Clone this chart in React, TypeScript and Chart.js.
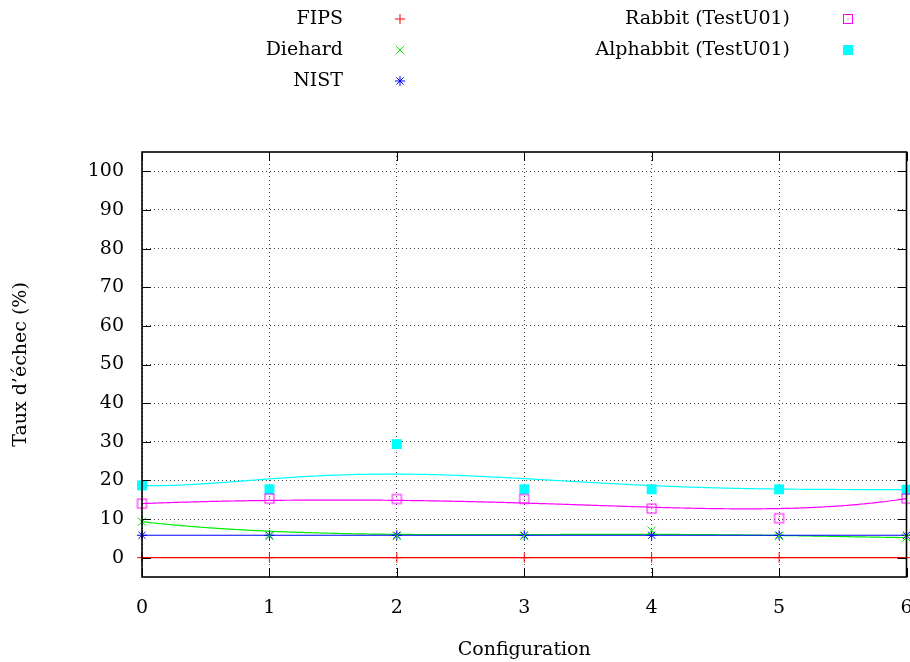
import React, { useEffect, useRef } from 'react';
import { Chart, registerables } from 'chart.js';

Chart.register(...registerables);

// ---------- data ----------
const configurations = [0, 1, 2, 3, 4, 5, 6];
const yTickValues = [0, 10, 20, 30, 40, 50, 60, 70, 80, 90, 100];

const fipsRates = [0, 0, 0, 0, 0, 0, 0];
const diehardRates = [9.3, 5.6, 5.6, 5.6, 7.0, 5.6, 5.2];
const nistRates = [5.8, 5.8, 5.8, 5.8, 5.8, 5.8, 5.8];
const rabbitRates = [14.0, 15.3, 15.2, 15.2, 12.7, 10.2, 15.3];
const alphabbitRates = [18.7, 17.7, 29.4, 17.7, 17.7, 17.7, 17.6];

const seriesNames = ['FIPS', 'Diehard', 'NIST', 'Rabbit (TestU01)', 'Alphabbit (TestU01)'];
const xAxisTitle = 'Configuration';
const yAxisTitle = 'Taux d’échec (%)';

// ---------- styles ----------
const FONT_FAMILY = '"DejaVu Serif", "Liberation Serif", serif';
const FONT_SIZE = 19;
const colors = ['#ff0000', '#00ee00', '#0000ff', '#ff00ff', '#00ffff'];
const markerKinds = ['plus', 'x', 'star', 'squareDot', 'filledSquare'];

// legend placement (gnuplot-like: right aligned text, sample marker on the right)
const legendSlots = [
  { textRight: 343, markerX: 400, y: 19 },
  { textRight: 343, markerX: 400, y: 50 },
  { textRight: 343, markerX: 400, y: 81 },
  { textRight: 790, markerX: 848, y: 19 },
  { textRight: 790, markerX: 848, y: 50 },
];

function drawMarker(ctx: CanvasRenderingContext2D, kind: string, x: number, y: number, color: string) {
  ctx.save();
  ctx.strokeStyle = color;
  ctx.fillStyle = color;
  ctx.lineWidth = 1;
  ctx.beginPath();
  if (kind === 'plus') {
    ctx.moveTo(x - 5, y); ctx.lineTo(x + 5, y);
    ctx.moveTo(x, y - 5); ctx.lineTo(x, y + 5);
    ctx.stroke();
  } else if (kind === 'x') {
    ctx.moveTo(x - 4.2, y - 4.2); ctx.lineTo(x + 4.2, y + 4.2);
    ctx.moveTo(x - 4.2, y + 4.2); ctx.lineTo(x + 4.2, y - 4.2);
    ctx.stroke();
  } else if (kind === 'star') {
    ctx.moveTo(x - 5, y); ctx.lineTo(x + 5, y);
    ctx.moveTo(x, y - 5); ctx.lineTo(x, y + 5);
    ctx.moveTo(x - 3.6, y - 3.6); ctx.lineTo(x + 3.6, y + 3.6);
    ctx.moveTo(x - 3.6, y + 3.6); ctx.lineTo(x + 3.6, y - 3.6);
    ctx.stroke();
  } else if (kind === 'squareDot') {
    ctx.strokeRect(x - 4.5, y - 4.5, 9, 9);
    ctx.fillRect(x - 0.5, y - 0.5, 1, 1);
  } else if (kind === 'filledSquare') {
    ctx.fillRect(x - 5, y - 5, 10, 10);
  }
  ctx.restore();
}

function bezierPoint(pts: { x: number; y: number }[], t: number) {
  const p = pts.map((q) => ({ x: q.x, y: q.y }));
  for (let r = 1; r < p.length; r++) {
    for (let i = 0; i < p.length - r; i++) {
      p[i].x = (1 - t) * p[i].x + t * p[i + 1].x;
      p[i].y = (1 - t) * p[i].y + t * p[i + 1].y;
    }
  }
  return p[0];
}

const gnuplotDecor = {
  id: 'gnuplotDecor',
  beforeDatasetsDraw(chart: any) {
    const { ctx } = chart;
    chart.data.datasets.forEach((ds: any, i: number) => {
      const meta = chart.getDatasetMeta(i);
      const pts = meta.data.map((e: any) => ({ x: e.x, y: e.y }));
      if (!pts.length) return;
      ctx.save();
      ctx.strokeStyle = ds.borderColor;
      ctx.lineWidth = 1.2;
      ctx.beginPath();
      const N = 400;
      for (let s = 0; s <= N; s++) {
        const p = bezierPoint(pts, s / N);
        if (s === 0) ctx.moveTo(p.x, p.y);
        else ctx.lineTo(p.x, p.y);
      }
      ctx.stroke();
      ctx.restore();
    });
  },
  afterDraw(chart: any) {
    const { ctx, chartArea: a } = chart;
    const xs = chart.scales.x;
    const ys = chart.scales.y;
    ctx.save();
    ctx.strokeStyle = '#000';
    ctx.lineWidth = 1;
    ctx.beginPath();
    const tl = 9;
    yTickValues.forEach((v) => {
      const py = Math.round(ys.getPixelForValue(v)) + 0.5;
      ctx.moveTo(a.left, py); ctx.lineTo(a.left + tl, py);
      ctx.moveTo(a.right, py); ctx.lineTo(a.right - tl, py);
    });
    configurations.forEach((v) => {
      const px = Math.round(xs.getPixelForValue(v)) + 0.5;
      ctx.moveTo(px, a.bottom); ctx.lineTo(px, a.bottom - tl);
      ctx.moveTo(px, a.top); ctx.lineTo(px, a.top + tl);
    });
    ctx.stroke();
    ctx.lineWidth = 1.6;
    ctx.strokeRect(a.left, a.top, a.right - a.left, a.bottom - a.top);
    ctx.restore();

    // legend
    ctx.save();
    ctx.font = `${FONT_SIZE}px ${FONT_FAMILY}`;
    ctx.fillStyle = '#000';
    ctx.textAlign = 'right';
    ctx.textBaseline = 'middle';
    chart.data.datasets.forEach((ds: any, i: number) => {
      const slot = legendSlots[i];
      ctx.fillText(ds.label, slot.textRight, slot.y);
      drawMarker(ctx, markerKinds[i], slot.markerX, slot.y, colors[i]);
    });
    ctx.restore();
  },
};

export default function App() {
  const canvasRef = useRef<HTMLCanvasElement | null>(null);

  useEffect(() => {
    document.body.style.margin = '0';
    document.body.style.overflow = 'hidden';
    const canvas = canvasRef.current;
    if (!canvas) return;

    // open square with a centre dot (gnuplot point type 4)
    const sq = document.createElement('canvas');
    sq.width = 13; sq.height = 13;
    const sctx = sq.getContext('2d')!;
    sctx.strokeStyle = colors[3];
    sctx.fillStyle = colors[3];
    sctx.lineWidth = 1;
    sctx.strokeRect(2, 2, 9, 9);
    sctx.fillRect(6, 6, 1, 1);

    const seriesValues = [fipsRates, diehardRates, nistRates, rabbitRates, alphabbitRates];
    const pointStyles: any[] = ['cross', 'crossRot', 'star', sq, 'rect'];
    const radii = [5, 6, 5, 6.5, 7];

    const font = { family: FONT_FAMILY, size: FONT_SIZE };

    const chart = new Chart(canvas, {
      type: 'line',
      data: {
        datasets: seriesValues.map((vals, i) => ({
          label: seriesNames[i],
          data: configurations.map((c, j) => ({ x: c, y: vals[j] })),
          showLine: false,
          borderColor: colors[i],
          backgroundColor: i === 4 ? colors[i] : 'rgba(0,0,0,0)',
          pointStyle: pointStyles[i],
          pointRadius: radii[i],
          pointHoverRadius: radii[i],
          pointBorderWidth: i === 4 ? 0 : 1,
          pointBorderColor: colors[i],
          pointBackgroundColor: i === 4 ? colors[i] : 'rgba(0,0,0,0)',
          clip: false as any,
        })),
      },
      options: {
        responsive: false,
        animation: false,
        devicePixelRatio: 1,
        events: [],
        layout: { padding: { left: 0, right: 0, top: 152, bottom: 0 } },
        plugins: { legend: { display: false }, tooltip: { enabled: false } },
        scales: {
          x: {
            type: 'linear',
            min: 0,
            max: 6,
            afterBuildTicks: (s: any) => { s.ticks = configurations.map((v) => ({ value: v })); },
            afterFit: (s: any) => { s.height = 85; s.paddingLeft = 0; s.paddingRight = 0; },
            grid: { color: '#444', lineWidth: 1, drawTicks: false },
            border: { display: false, dash: [1, 3] },
            ticks: { color: '#000', font, padding: 20, maxRotation: 0, autoSkip: false },
            title: { display: true, text: xAxisTitle, color: '#000', font, padding: { top: 0, bottom: 1 } },
          },
          y: {
            type: 'linear',
            min: -5,
            max: 105,
            afterBuildTicks: (s: any) => { s.ticks = yTickValues.map((v) => ({ value: v })); },
            afterFit: (s: any) => { s.width = 142; s.paddingTop = 0; s.paddingBottom = 0; },
            grid: { color: '#444', lineWidth: 1, drawTicks: false },
            border: { display: false, dash: [1, 3] },
            ticks: { color: '#000', font, padding: 18, autoSkip: false },
            title: { display: true, text: yAxisTitle, color: '#000', font, padding: { top: 10, bottom: 0 } },
          },
        },
      },
      plugins: [gnuplotDecor],
    });

    return () => chart.destroy();
  }, []);

  // the canvas is 4px wider than the view so that Chart.js' point-overflow margin
  // (8px) lands the x = 6 edge at pixel 906, as in the reference
  return (
    <div style={{ width: 910, height: 662, position: 'relative', overflow: 'hidden' }}>
      <canvas ref={canvasRef} width={914} height={662} style={{ width: 914, height: 662, display: 'block' }} />
    </div>
  );
}
